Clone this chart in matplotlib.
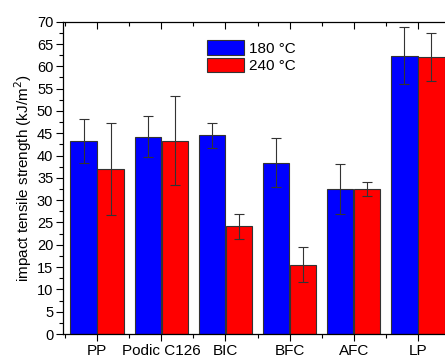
import matplotlib
matplotlib.use("Agg")
import matplotlib.pyplot as plt
import numpy as np
from matplotlib.ticker import MultipleLocator

plt.rcParams['font.family'] = ['Liberation Sans', 'DejaVu Sans']

categories = ["PP", "Podic C126", "BIC", "BFC", "AFC", "LP"]
vals_180 = [43.3, 44.2, 44.5, 38.4, 32.5, 62.4]
err_180 = [4.9, 4.6, 2.8, 5.5, 5.6, 6.3]
vals_240 = [37.0, 43.3, 24.1, 15.5, 32.5, 62.0]
err_240 = [10.3, 10.0, 2.8, 3.9, 1.6, 5.4]
series_labels = ["180 °C", "240 °C"]

W, H = 445, 355
fig = plt.figure(figsize=(W/100, H/100), dpi=100)
ax = fig.add_axes([63/W, (H-334)/H, (452-63)/W, (334-21.7)/H])

x = np.arange(len(categories))
bw = 0.41
off = 0.21
ekw = dict(ecolor='#333333', elinewidth=0.8, capsize=3.5, capthick=0.8)
ax.bar(x - off, vals_180, bw, color='#0000FF', edgecolor='#333333', linewidth=0.8,
       yerr=err_180, error_kw=ekw, label=series_labels[0], zorder=2)
ax.bar(x + off, vals_240, bw, color='#FF0000', edgecolor='#333333', linewidth=0.8,
       yerr=err_240, error_kw=ekw, label=series_labels[1], zorder=2)

ax.set_xlim(-0.53, 5.53)
ax.set_ylim(0, 70)
ax.set_xticks(x)
ax.set_xticklabels(categories, fontsize=11)
ax.xaxis.set_minor_locator(MultipleLocator(0.5))
ax.yaxis.set_major_locator(MultipleLocator(5))
ax.yaxis.set_minor_locator(MultipleLocator(2.5))
ax.tick_params(axis='y', which='major', direction='out', length=5, width=0.8, labelsize=10.5, pad=2)
ax.tick_params(axis='y', which='minor', direction='out', length=3, width=0.8)
ax.tick_params(axis='x', which='major', direction='out', length=5, width=0.8, top=True, pad=2)
ax.tick_params(axis='x', which='minor', direction='out', length=3, width=0.8, top=True)
# top ticks inward
for t in ax.xaxis.get_major_ticks() + ax.xaxis.get_minor_ticks():
    t.tick2line.set_marker(matplotlib.lines.TICKDOWN)
for sp in ax.spines.values():
    sp.set_linewidth(0.9)

ax.set_ylabel("impact tensile strength (kJ/m$^2$)", fontsize=11, labelpad=2)

fig.legend(loc='upper left', bbox_to_anchor=(207/W, 1-40/H), bbox_transform=fig.transFigure,
           frameon=False, fontsize=11, borderpad=0, borderaxespad=0,
           handlelength=2.4, handleheight=1.1, labelspacing=0.15, handletextpad=0.35)

fig.savefig("out.png", dpi=100)
